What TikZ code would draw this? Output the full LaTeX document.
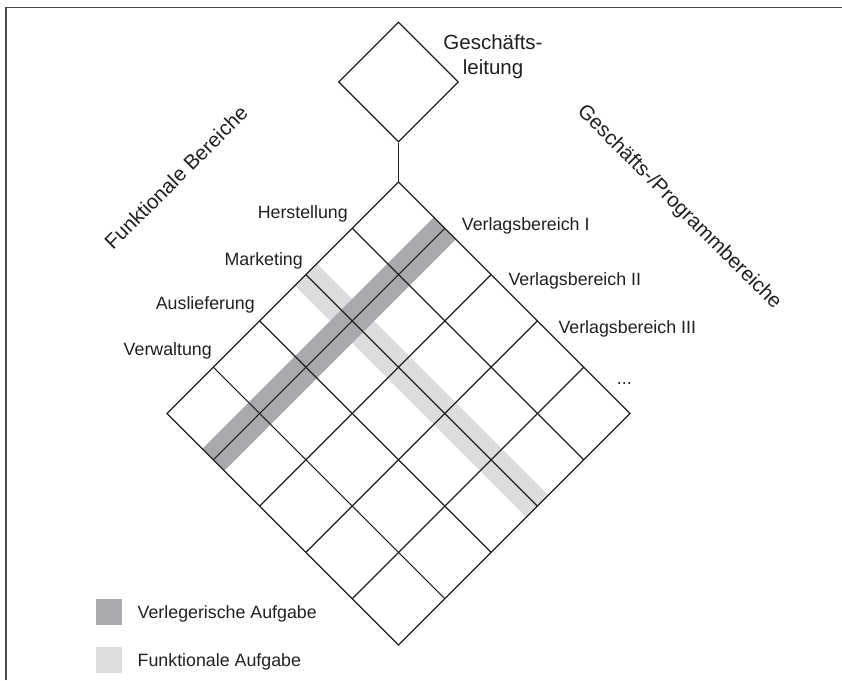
\documentclass[tikz,border=0pt]{standalone}
\usepackage{fontspec}
\setmainfont{Liberation Sans}
\usetikzlibrary{positioning,shapes.geometric,calc}

\definecolor{bandDark}{RGB}{167,169,172}
\definecolor{bandLight}{RGB}{220,221,222}
\definecolor{inkGray}{RGB}{35,31,32}

\begin{document}
\begin{tikzpicture}[
  x=1pt, y=1pt,
  gline/.style={draw=inkGray, line width=1.2pt},
  glbox/.style={diamond, gline, minimum size=120pt, inner sep=0pt},
  lbl/.style={font=\fontsize{17.8}{24.7}\selectfont, text=inkGray, inner sep=0pt},
  axlbl/.style={font=\fontsize{20.5}{24.7}\selectfont, text=inkGray, inner sep=0pt},
  band/.style={line width=31pt, line cap=butt},
  legbox/.style={minimum width=26pt, minimum height=25.5pt, inner sep=0pt},
]
  \useasboundingbox (0,0) rectangle (842,680);
  % frame, only top and left edge
  \draw[gray!60!black, line width=1.5pt] (6,0) -- (6,672.5) -- (842,672.5);

  % Geschaeftsleitung
  \node[glbox] (gl) at (398.5,598) {};
  \node[axlbl, align=center, anchor=north] (gltxt) at (493,645.7) {Geschäfts-\\leitung};

  % corners of the matrix
  \coordinate (T) at (398.5,498);
  \coordinate (L) at (167,266.5);
  \coordinate (R) at (630,266.5);
  \coordinate (B) at (398.5,35);
  \draw[gline] (gl.south) -- (T);

  % task bands
  \draw[band, bandLight] ($(T)!2/5!(L)$) -- ($(R)!2/5!(B)$);
  \draw[band, bandDark]  ($(T)!1/5!(R)$) -- ($(L)!1/5!(B)$);

  % 5x5 matrix
  \draw[gline] (T) -- (R) -- (B) -- (L) -- cycle;
  \foreach \i in {1,...,4} {
    \draw[gline] ($(T)!\i/5!(L)$) -- ($(R)!\i/5!(B)$);
    \draw[gline] ($(T)!\i/5!(R)$) -- ($(L)!\i/5!(B)$);
  }

  % axis titles
  \node[axlbl, rotate=45]  (fb)  at (176,502.5) {Funktionale Bereiche};
  \node[axlbl, rotate=-45] (gpb) at (679,472.5) {Geschäfts-/Programmbereiche};

  % functional areas
  \node[lbl, anchor=base east] (hst) at (348,461.3) {Herstellung};
  \node[lbl, anchor=base east] (mkt) at (303,414.8) {Marketing};
  \node[lbl, anchor=base east] (aus) at (255,370.2) {Auslieferung};
  \node[lbl, anchor=base east] (vwt) at (212,324.5) {Verwaltung};

  % publishing areas
  \node[lbl, anchor=base west] (vb1) at (461.7,449) {Verlagsbereich I};
  \node[lbl, anchor=base west] (vb2) at (508.3,394) {Verlagsbereich II};
  \node[lbl, anchor=base west] (vb3) at (558.3,346.7) {Verlagsbereich III};
  \node[lbl, anchor=base west] (vbx) at (616.7,295.7) {...};

  % legend
  \node[legbox, fill=bandDark] (lv) at (108.8,68.2) {};
  \node[lbl, text depth=0pt, right=15.5pt of lv] (lvtxt) {Verlegerische Aufgabe};
  \node[legbox, fill=bandLight] (lf) at (108.8,20.2) {};
  \node[lbl, text depth=0pt, right=15.5pt of lf] (lftxt) {Funktionale Aufgabe};
\end{tikzpicture}
\end{document}
